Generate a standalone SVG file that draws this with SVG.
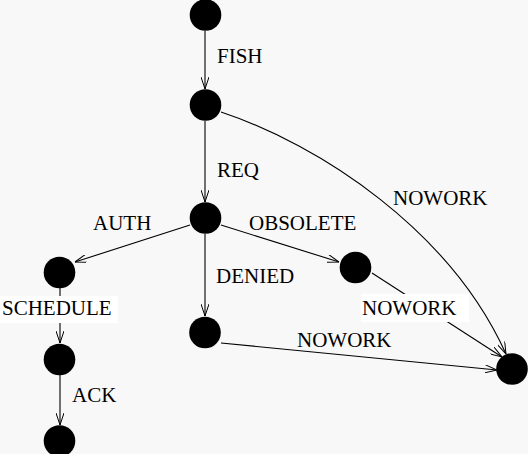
<svg xmlns="http://www.w3.org/2000/svg" width="528" height="454" viewBox="0 0 528 454">
  <style>
    .edge { fill: none; stroke: #000; stroke-width: 1.1; }
    .node { fill: #000; }
    .lbl { font-family: "Liberation Serif", "Times New Roman", serif; font-size: 21px; fill: #000; }
    .lblbox { fill: #fff; stroke: none; }
  </style>
  <defs>
    <marker id="arrow" viewBox="0 0 12 8" refX="12" refY="4" markerWidth="12" markerHeight="8" orient="auto" markerUnits="userSpaceOnUse">
      <path d="M0,0 L12,4 L0,8" fill="none" stroke="#000" stroke-width="1"/>
    </marker>
  </defs>
  <rect width="528" height="454" fill="#f8f8f8"/>

  <!-- transitions -->
  <g id="connectors">
    <path class="edge" d="M205,31 L205,89" marker-end="url(#arrow)"/>
    <path class="edge" d="M205,121 L205,202" marker-end="url(#arrow)"/>
    <path class="edge" d="M221,112 C320,145 450,230 506,354" marker-end="url(#arrow)"/>
    <path class="edge" d="M190,225 L75,262" marker-end="url(#arrow)"/>
    <path class="edge" d="M205,234 L205,316" marker-end="url(#arrow)"/>
    <path class="edge" d="M221,225 L339,262" marker-end="url(#arrow)"/>
    <path class="edge" d="M372,273 L502,357" marker-end="url(#arrow)"/>
    <path class="edge" d="M221,343 L497,370" marker-end="url(#arrow)"/>
    <path class="edge" d="M60,288 L60,343" marker-end="url(#arrow)"/>
    <path class="edge" d="M60,375 L60,425" marker-end="url(#arrow)"/>

    <text class="lbl" x="217" y="63">FISH</text>
    <text class="lbl" x="217" y="177">REQ</text>
    <text class="lbl" x="393" y="205">NOWORK</text>
    <text class="lbl" x="93" y="230">AUTH</text>
    <text class="lbl" x="249" y="230">OBSOLETE</text>
    <text class="lbl" x="216" y="283">DENIED</text>
    <rect class="lblbox" x="0" y="296" width="118" height="27"/>
    <text class="lbl" x="2" y="315">SCHEDULE</text>
    <rect class="lblbox" x="361" y="294" width="108" height="28"/>
    <text class="lbl" x="362" y="315">NOWORK</text>
    <text class="lbl" x="297" y="347">NOWORK</text>
    <text class="lbl" x="72" y="402">ACK</text>
  </g>

  <!-- states -->
  <g id="n1"><circle class="node" cx="205.5" cy="15" r="15.8"/></g>
  <g id="n2"><circle class="node" cx="205.5" cy="105" r="15.8"/></g>
  <g id="n3"><circle class="node" cx="205.5" cy="218" r="15.8"/></g>
  <g id="n4"><circle class="node" cx="59.5" cy="272.5" r="15.8"/></g>
  <g id="n5"><circle class="node" cx="355.5" cy="267.5" r="15.8"/></g>
  <g id="n6"><circle class="node" cx="205" cy="332.5" r="15.8"/></g>
  <g id="n7"><circle class="node" cx="512" cy="369" r="15.8"/></g>
  <g id="n8"><circle class="node" cx="59.5" cy="359.5" r="15.8"/></g>
  <g id="n9"><circle class="node" cx="59.5" cy="441" r="15.8"/></g>
</svg>
